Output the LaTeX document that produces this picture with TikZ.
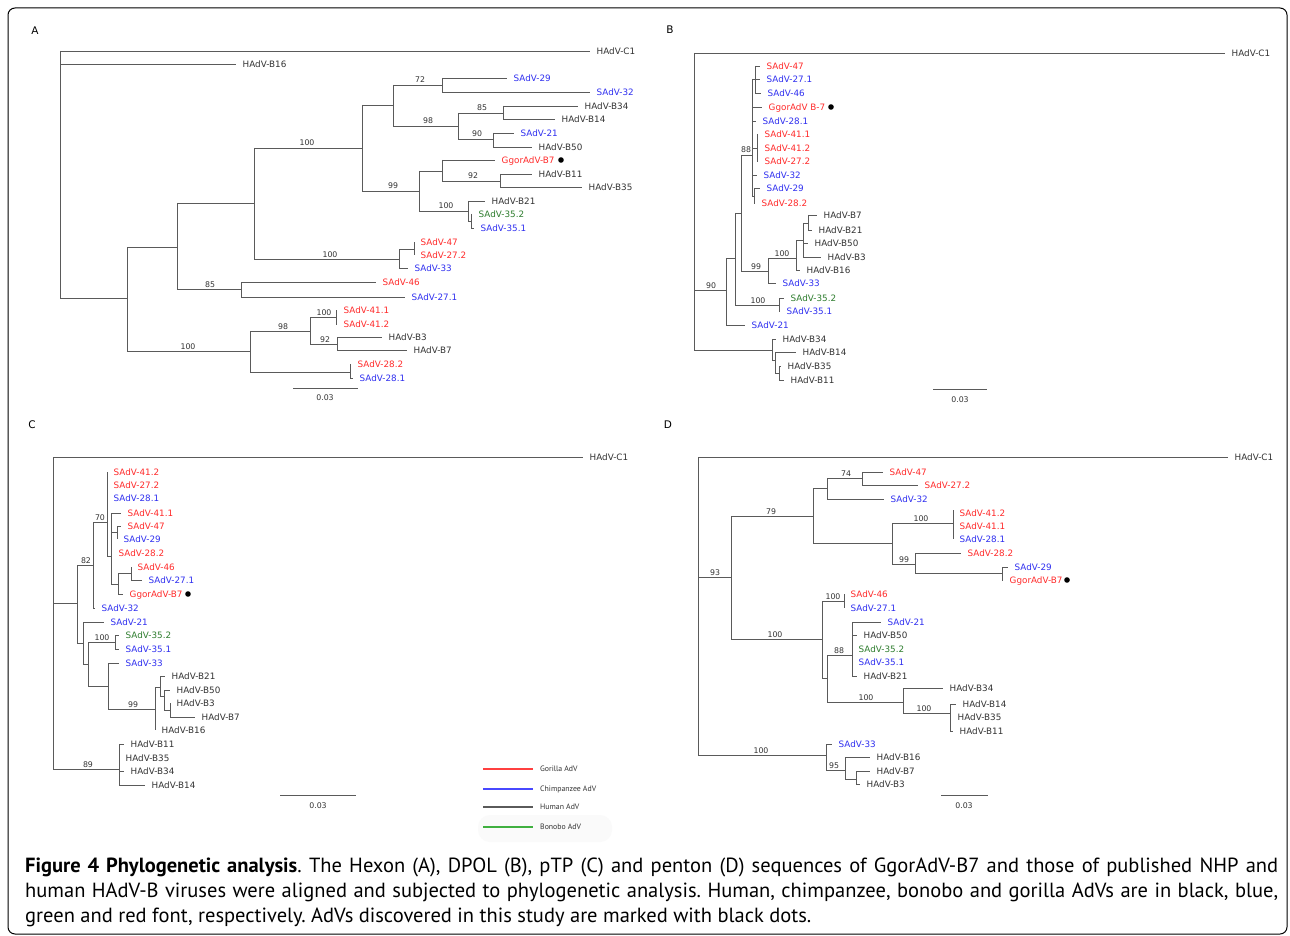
\documentclass[tikz,border=0pt]{standalone}
\usepackage{fontspec}
\newfontfamily\dejavu{DejaVu Sans}
\newfontfamily\ptsans{PT Sans}
\frenchspacing
\definecolor{tg}{HTML}{5A5A5A}
\definecolor{tx}{HTML}{333333}
\definecolor{rd}{HTML}{FF2B2B}
\definecolor{bl}{HTML}{3030F0}
\definecolor{gr}{HTML}{2E7D2E}
\definecolor{lrd}{HTML}{FF4040}
\definecolor{lbl}{HTML}{4848FF}
\definecolor{lgr}{HTML}{40B040}
\newcounter{nd}
\tikzset{
  br/.style={draw=tg,line width=0.9pt},
  lab/.style={font=\dejavu\fontsize{8.8}{10}\selectfont,inner sep=0pt,anchor=base west},
  bsl/.style={font=\dejavu\fontsize{7.8}{9}\selectfont,inner sep=0pt,anchor=base,text=tx},
  pl/.style={font=\dejavu\fontsize{10.5}{12}\selectfont,inner sep=0pt,anchor=center,text=black},
  leg/.style={font=\ptsans\fontsize{7.8}{9}\selectfont,inner sep=0pt,anchor=west,text=tx},
  legline/.style={line width=1.1pt},
  captext/.style={font=\ptsans\fontsize{20.5}{24}\selectfont,inner sep=0pt,anchor=base west,text=black}
}
% leaf: from (x0,y) to x1, label
\def\lf(#1,#2)(#3)#4#5{\draw[br] (#1,#2) -- (#3,#2);\stepcounter{nd}\node[lab,text=#5] (l\arabic{nd}) at (#3+6.5,#2+3.2) {#4};}
% internal node: horizontal from parent x to x at y, vertical ya..yb
\def\nd(#1,#2)(#3)(#4,#5){\draw[br] (#1,#2) -- (#3,#2) (#3,#4) -- (#3,#5);}
% bootstrap label
\def\bs(#1,#2)#3{\stepcounter{nd}\node[bsl] (b\arabic{nd}) at (#1,#2-2) {#3};}
\begin{document}
\begin{tikzpicture}[x=1pt,y=-1pt]
\useasboundingbox (0,0) rectangle (1290,936);
\fill[white] (0,0) rectangle (1290,936);
\draw[line width=1pt,rounded corners=7pt] (8,8) rectangle (1287,934);

% ---------------- Panel A ----------------
\node[pl] (pA) at (35,31) {A};
\draw[br] (60,51) -- (60,298);
\lf(60,51)(590){HAdV-C1}{tx}
\lf(60,64)(236){HAdV-B16}{tx}
\nd(60,298)(127)(247,351)
\nd(127,247)(177)(203,289)
\nd(177,203)(254)(148,259)
\nd(254,148)(362)(105,191) \bs(307,148){100}
\nd(362,105)(393)(85,126)
\nd(393,85)(442)(78,92) \bs(420,85){72}
\lf(442,78)(507){SAdV-29}{bl}
\lf(442,92)(590){SAdV-32}{bl}
\nd(393,126)(458)(113,139) \bs(428,126){98}
\nd(458,113)(503)(106,119) \bs(482,113){85}
\lf(503,106)(578){HAdV-B34}{tx}
\lf(503,119)(555){HAdV-B14}{tx}
\nd(458,139)(493)(133,147) \bs(477,139){90}
\lf(493,133)(514){SAdV-21}{bl}
\lf(493,147)(532){HAdV-B50}{tx}
\nd(362,191)(419)(171,211) \bs(393,191){99}
\nd(419,171)(442)(160,181)
\lf(442,160)(495){GgorAdV-B7}{rd}
\fill (561,160) circle (2.8);
\nd(442,181)(500)(174,187) \bs(473,181){92}
\lf(500,174)(532){HAdV-B11}{tx}
\lf(500,187)(582){HAdV-B35}{tx}
\nd(419,211)(468)(201,221) \bs(446,211){100}
\lf(468,201)(485){HAdV-B21}{tx}
\nd(468,221)(471)(214,228)
\lf(471,214)(472){SAdV-35.2}{gr}
\lf(471,228)(474){SAdV-35.1}{bl}
\nd(254,259)(399)(249,268) \bs(330,259){100}
\nd(399,249)(414)(242,255)
\lf(414,242)(414){SAdV-47}{rd}
\lf(414,255)(414){SAdV-27.2}{rd}
\lf(399,268)(408){SAdV-33}{bl}
\nd(177,289)(241)(282,297) \bs(210,289){85}
\lf(241,282)(376){SAdV-46}{rd}
\lf(241,297)(405){SAdV-27.1}{bl}
\nd(127,351)(250)(331,372) \bs(188,351){100}
\nd(250,331)(310)(317,344) \bs(283,331){98}
\nd(310,317)(336)(310,324) \bs(324,317){100}
\lf(336,310)(337){SAdV-41.1}{rd}
\lf(336,324)(337){SAdV-41.2}{rd}
\nd(310,344)(337)(337,350) \bs(325,344){92}
\lf(337,337)(382){HAdV-B3}{tx}
\lf(337,350)(407){HAdV-B7}{tx}
\nd(250,372)(350)(364,378)
\lf(350,364)(351){SAdV-28.2}{rd}
\lf(350,378)(353){SAdV-28.1}{bl}
\draw[br] (293,388) -- (358,388);
\node[bsl] (sA) at (325,400) {0.03};

% ---------------- Panel B ----------------
\node[pl] (pB) at (670,30) {B};
\draw[br] (694,53) -- (694,350);
\lf(694,53)(1225){HAdV-C1}{tx}
\nd(694,290)(726)(258,325) \bs(711,290){90}
\lf(726,325)(745){SAdV-21}{bl}
\nd(726,258)(735)(213,305)
\nd(735,305)(779)(298,311) \bs(758,305){100}
\lf(779,298)(784){SAdV-35.2}{gr}
\lf(779,311)(780){SAdV-35.1}{bl}
\nd(735,213)(741)(155,271)
\nd(741,271)(768)(258,283) \bs(756,271){99}
\lf(768,283)(776){SAdV-33}{bl}
\nd(768,258)(796)(240,270) \bs(782,258){100}
\lf(796,270)(800){HAdV-B16}{tx}
\nd(796,240)(803)(223,257)
\lf(803,243)(808){HAdV-B50}{tx}
\lf(803,257)(821){HAdV-B3}{tx}
\nd(803,223)(808)(215,230)
\lf(808,215)(817){HAdV-B7}{tx}
\lf(808,230)(812){HAdV-B21}{tx}
\nd(741,155)(752)(79,196) \bs(746,155){88}
\nd(752,79)(755)(66,93)
\lf(755,66)(760){SAdV-47}{rd}
\lf(755,79)(760){SAdV-27.1}{bl}
\lf(755,93)(761){SAdV-46}{bl}
\lf(752,107)(762){GgorAdV B-7}{rd}
\fill (831,107) circle (2.8);
\lf(752,121)(756){SAdV-28.1}{bl}
\nd(752,148)(757)(134,161)
\lf(757,134)(758){SAdV-41.1}{rd}
\lf(757,148)(758){SAdV-41.2}{rd}
\lf(757,161)(758){SAdV-27.2}{rd}
\lf(752,175)(757){SAdV-32}{bl}
\nd(752,196)(754)(188,203)
\lf(754,188)(760){SAdV-29}{bl}
\lf(754,203)(755){SAdV-28.2}{rd}
\nd(694,350)(772)(339,360)
\lf(772,339)(776){HAdV-B34}{tx}
\nd(772,360)(775)(352,373)
\lf(775,352)(796){HAdV-B14}{tx}
\nd(775,373)(779)(366,380)
\lf(779,366)(781){HAdV-B35}{tx}
\lf(779,380)(784){HAdV-B11}{tx}
\draw[br] (933,389) -- (987,389);
\node[bsl] (sB) at (960,402) {0.03};

% ---------------- Panel C ----------------
\node[pl] (pC) at (32,425) {C};
\draw[br] (53,457) -- (53,769);
\lf(53,457)(583){HAdV-C1}{tx}
\nd(53,603)(77)(565,643)
\nd(77,565)(93)(522,608) \bs(86,565){82}
\lf(93,608)(95){SAdV-32}{bl}
\nd(93,522)(107)(472,556) \bs(100,522){70}
\lf(107,472)(107){SAdV-41.2}{rd}
\lf(107,485)(107){SAdV-27.2}{rd}
\lf(107,498)(107){SAdV-28.1}{bl}
\nd(107,556)(111)(513,584)
\lf(111,513)(121){SAdV-41.1}{rd}
\nd(111,532)(117)(526,539)
\lf(117,526)(121){SAdV-47}{rd}
\lf(117,539)(117){SAdV-29}{bl}
\lf(111,553)(112){SAdV-28.2}{rd}
\nd(111,584)(118)(573,594)
\nd(118,573)(131)(567,580)
\lf(131,567)(131){SAdV-46}{rd}
\lf(131,580)(142){SAdV-27.1}{bl}
\lf(118,594)(123){GgorAdV-B7}{rd}
\fill (188,594) circle (2.8);
\nd(77,643)(83)(622,664)
\lf(83,622)(104){SAdV-21}{bl}
\nd(83,664)(88)(642,686)
\nd(88,642)(115)(635,649) \bs(102,642){100}
\lf(115,635)(119){SAdV-35.2}{gr}
\lf(115,649)(119){SAdV-35.1}{bl}
\nd(88,686)(108)(663,709)
\lf(108,663)(119){SAdV-33}{bl}
\nd(108,709)(155)(687,730) \bs(133,709){99}
\lf(155,730)(155){HAdV-B16}{tx}
\nd(155,687)(160)(676,696)
\lf(160,676)(165){HAdV-B21}{tx}
\nd(160,696)(164)(690,710)
\lf(164,690)(170){HAdV-B50}{tx}
\nd(164,710)(170)(703,717)
\lf(170,703)(170){HAdV-B3}{tx}
\lf(170,717)(195){HAdV-B7}{tx}
\nd(53,769)(119)(744,785) \bs(88,769){89}
\lf(119,744)(124){HAdV-B11}{tx}
\lf(119,758)(119){HAdV-B35}{tx}
\lf(119,771)(124){HAdV-B34}{tx}
\lf(119,785)(145){HAdV-B14}{tx}
\draw[br] (280,795) -- (356,795);
\node[bsl] (sC) at (318,808) {0.03};

% legend
\fill[black!2,rounded corners=12pt] (478,815) rectangle (612,842);
\coordinate (r0) at (483,769); \coordinate (r1) at (533,769);
\coordinate (u0) at (483,789); \coordinate (u1) at (533,789);
\coordinate (k0) at (483,807); \coordinate (k1) at (533,807);
\coordinate (v0) at (483,827); \coordinate (v1) at (533,827);
\draw[legline,draw=lrd] (r0) -- (r1);
\draw[legline,draw=lbl] (u0) -- (u1);
\draw[legline,draw=tg] (k0) -- (k1);
\draw[legline,draw=lgr] (v0) -- (v1);
\node[leg] (g1) at (540,769) {Gorilla AdV};
\node[leg] (g2) at (540,789) {Chimpanzee AdV};
\node[leg] (g3) at (540,807) {Human AdV};
\node[leg] (g4) at (540,827) {Bonobo AdV};

% ---------------- Panel D ----------------
\node[pl] (pD) at (668,425) {D};
\draw[br] (698,457) -- (698,755);
\lf(698,457)(1228){HAdV-C1}{tx}
\nd(698,577)(731)(516,639) \bs(715,577){93}
\nd(731,516)(813)(488,543) \bs(771,516){79}
\nd(813,488)(827)(478,499)
\nd(827,478)(862)(472,485) \bs(846,478){74}
\lf(862,472)(883){SAdV-47}{rd}
\lf(862,485)(918){SAdV-27.2}{rd}
\lf(827,499)(884){SAdV-32}{bl}
\nd(813,543)(892)(523,564)
\nd(892,523)(953)(510,539) \bs(921,523){100}
\lf(953,513)(953){SAdV-41.2}{rd}
\lf(953,526)(953){SAdV-41.1}{rd}
\lf(953,539)(953){SAdV-28.1}{bl}
\nd(892,564)(915)(553,573) \bs(904,564){99}
\lf(915,553)(961){SAdV-28.2}{rd}
\nd(915,573)(1002)(567,580)
\lf(1002,567)(1008){SAdV-29}{bl}
\lf(1002,580)(1003){GgorAdV-B7}{rd}
\fill (1067,580) circle (2.8);
\nd(731,639)(822)(601,678) \bs(775,639){100}
\nd(822,601)(844)(594,608) \bs(833,601){100}
\lf(844,594)(844){SAdV-46}{rd}
\lf(844,608)(844){SAdV-27.1}{bl}
\nd(822,678)(827)(655,702)
\nd(827,655)(852)(622,676) \bs(839,655){88}
\lf(852,622)(881){SAdV-21}{bl}
\lf(852,635)(857){HAdV-B50}{tx}
\lf(852,649)(852){SAdV-35.2}{gr}
\lf(852,662)(852){SAdV-35.1}{bl}
\lf(852,676)(857){HAdV-B21}{tx}
\nd(827,702)(903)(688,713) \bs(866,702){100}
\lf(903,688)(943){HAdV-B34}{tx}
\nd(903,713)(950)(704,731) \bs(924,713){100}
\lf(950,704)(956){HAdV-B14}{tx}
\lf(950,717)(951){HAdV-B35}{tx}
\lf(950,731)(953){HAdV-B11}{tx}
\nd(698,755)(826)(744,770) \bs(761,755){100}
\lf(826,744)(832){SAdV-33}{bl}
\nd(826,770)(845)(757,779) \bs(834,770){95}
\lf(845,757)(870){HAdV-B16}{tx}
\nd(845,779)(856)(771,784)
\lf(856,771)(870){HAdV-B7}{tx}
\lf(856,784)(860){HAdV-B3}{tx}
\draw[br] (941,795) -- (988,795);
\node[bsl] (sD) at (964,808) {0.03};

% ---------------- Caption ----------------
\node[captext] (c1) at (25,872) {\makebox[1253pt][s]{\textbf{Figure 4 Phylogenetic analysis}. The Hexon (A), DPOL (B), pTP (C) and penton (D) sequences of GgorAdV-B7 and those of published NHP and}};
\node[captext] (c2) at (25,897) {\makebox[1253pt][s]{human HAdV-B viruses were aligned and subjected to phylogenetic analysis. Human, chimpanzee, bonobo and gorilla AdVs are in black, blue,}};
\node[captext] (c3) at (25,922) {green and red font, respectively. AdVs discovered in this study are marked with black dots.};
\end{tikzpicture}
\end{document}
